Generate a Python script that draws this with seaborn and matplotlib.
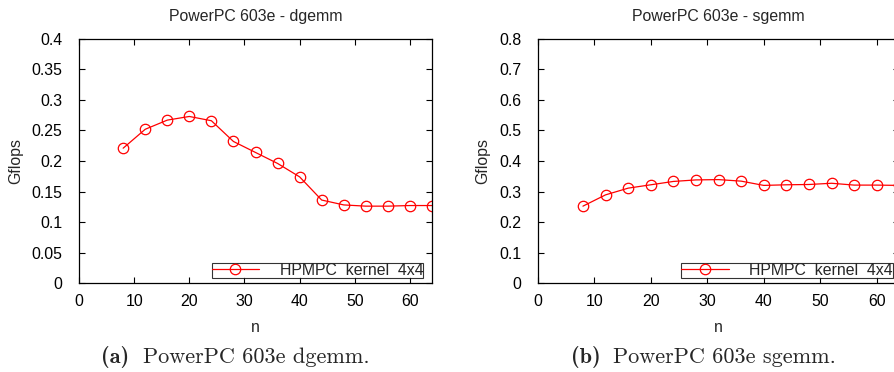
import pandas as pd
import matplotlib
matplotlib.use("Agg")
import matplotlib.pyplot as plt
import seaborn as sns

# data
n_vals = [8, 12, 16, 20, 24, 28, 32, 36, 40, 44, 48, 52, 56, 60, 64]
dgemm = [0.221, 0.252, 0.267, 0.273, 0.266, 0.232, 0.214, 0.196, 0.174,
         0.136, 0.128, 0.126, 0.126, 0.127, 0.127]
sgemm = [0.252, 0.289, 0.311, 0.322, 0.333, 0.338, 0.339, 0.334, 0.320,
         0.322, 0.323, 0.327, 0.321, 0.321, 0.320]
label = "HPMPC  kernel  4x4"

sns.set_style("ticks")
plt.rcParams["font.family"] = ["Liberation Sans", "DejaVu Sans"]
fs = 11.4

fig = plt.figure(figsize=(8.94, 3.72), dpi=100)
ax1 = fig.add_axes([0.0884, 0.2392, 0.3948, 0.6560])
ax2 = fig.add_axes([0.6015, 0.2392, 0.4045, 0.6560])

panels = [
    (ax1, dgemm, "PowerPC 603e - dgemm", 0.4, 0.05, 0.9753,
     "(a)", "PowerPC 603e dgemm.", 101, 143),
    (ax2, sgemm, "PowerPC 603e - sgemm", 0.8, 0.1, 0.9817,
     "(b)", "PowerPC 603e sgemm.", 571, 613),
]

for ax, vals, title, ymax, ystep, legx, tag, caption, tx, cx in panels:
    df = pd.DataFrame({"n": n_vals, "Gflops": vals})
    sns.lineplot(data=df, x="n", y="Gflops", ax=ax, color="red", lw=0.9,
                 marker="o", markersize=7.5, markerfacecolor="none",
                 markeredgecolor="red", markeredgewidth=0.9, label=label)
    ax.set_xlim(0, 64)
    ax.set_ylim(0, ymax)
    ax.set_xticks(range(0, 61, 10))
    yt = [round(i * ystep, 2) for i in range(int(round(ymax / ystep)) + 1)]
    ax.set_yticks(yt)
    ax.set_yticklabels([("%g" % v) for v in yt])
    ax.tick_params(axis="y", pad=12)
    ax.tick_params(axis="x", pad=8)
    ax.tick_params(direction="in", length=4.5, width=0.8, top=True, right=True,
                   labelsize=fs, colors="black")
    for s in ax.spines.values():
        s.set_linewidth(0.9)
        s.set_color("black")
    ax.set_title(title, fontsize=fs, pad=13)
    ax.set_xlabel("n", fontsize=fs, labelpad=8)
    ax.set_ylabel("Gflops", fontsize=fs, labelpad=6)
    leg = ax.legend(loc="lower right", bbox_to_anchor=(legx, 0.0205),
                    frameon=True, fancybox=False, borderpad=0.0,
                    handlelength=3.0, handletextpad=1.3, borderaxespad=0.0,
                    fontsize=fs)
    leg.get_frame().set_edgecolor("black")
    leg.get_frame().set_linewidth(0.8)
    # caption below the panel
    fig.text(tx / 894, 1 - 363 / 372, tag, family="cmb10",
             fontsize=16, ha="left", va="baseline")
    fig.text(cx / 894, 1 - 363 / 372, caption, family="cmr10",
             fontsize=16, ha="left", va="baseline")

fig.savefig("out.png", dpi=100)
